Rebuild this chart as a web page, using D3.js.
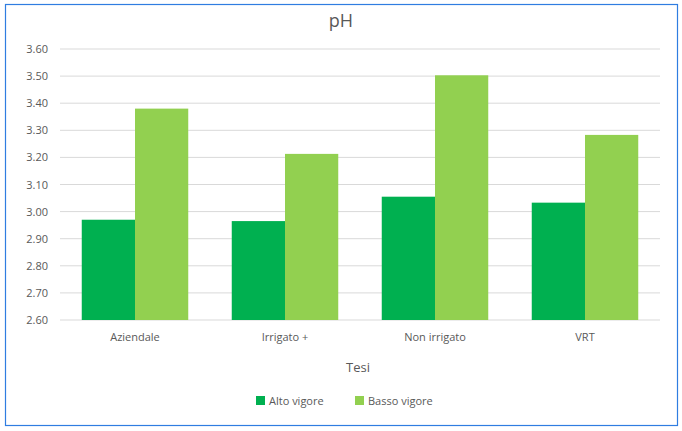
<!DOCTYPE html>
<html><head><meta charset="utf-8">
<script src="https://cdn.jsdelivr.net/npm/d3@7"></script>
<style>body{margin:0;background:#fff}text{font-family:"Open Sans",Calibri,sans-serif}</style>
</head><body>
<svg id="chart" width="682" height="431"></svg>
<script>
const categories = ['Aziendale', 'Irrigato +', 'Non irrigato', 'VRT'];
const alto = [2.97, 2.965, 3.055, 3.033];
const basso = [3.38, 3.213, 3.503, 3.283];
const ticks = [2.6, 2.7, 2.8, 2.9, 3.0, 3.1, 3.2, 3.3, 3.4, 3.5, 3.6];
const series = [{name: 'Alto vigore', values: alto, color: '#00b050'},
                {name: 'Basso vigore', values: basso, color: '#92d050'}];

const svg = d3.select('#chart');
svg.append('rect').attr('x', 5.5).attr('y', 4.5).attr('width', 672).attr('height', 421)
  .attr('fill', '#fff').attr('stroke', '#2f7de1').attr('stroke-width', 1.2);

const x = d3.scaleBand().domain(categories).range([60, 660]).paddingInner(0.29).paddingOuter(0.145);
const xs = d3.scaleBand().domain([0, 1]).range([0, x.bandwidth()]);
const y = d3.scaleLinear().domain([2.6, 3.6]).range([320, 49]);

svg.append('g').selectAll('line').data(ticks).enter().append('line')
  .attr('x1', 60).attr('x2', 660).attr('y1', d => y(d)).attr('y2', d => y(d))
  .attr('stroke', '#d9d9d9');
svg.append('g').selectAll('text').data(ticks).enter().append('text')
  .attr('x', 48).attr('y', d => y(d) + 4).attr('text-anchor', 'end')
  .attr('font-size', 11).attr('fill', '#595959').text(d => d.toFixed(2));

series.forEach((s, i) => {
  svg.append('g').selectAll('rect').data(s.values).enter().append('rect')
    .attr('x', (d, j) => x(categories[j]) + xs(i)).attr('width', xs.bandwidth())
    .attr('y', d => y(d)).attr('height', d => y(2.6) - y(d)).attr('fill', s.color);
});

svg.append('g').selectAll('text').data(categories).enter().append('text')
  .attr('x', d => x(d) + x.bandwidth() / 2).attr('y', 341).attr('text-anchor', 'middle')
  .attr('font-size', 11).attr('fill', '#595959').text(d => d);

svg.append('text').attr('x', 341).attr('y', 27).attr('text-anchor', 'middle')
  .attr('font-size', 18).attr('fill', '#595959').text('pH');
svg.append('text').attr('x', 358).attr('y', 372).attr('text-anchor', 'middle')
  .attr('font-size', 13).attr('fill', '#595959').text('Tesi');

const lx = [256, 355];
series.forEach((s, i) => {
  svg.append('rect').attr('x', lx[i]).attr('y', 396).attr('width', 9).attr('height', 9).attr('fill', s.color);
  svg.append('text').attr('x', lx[i] + 13).attr('y', 405).attr('font-size', 11)
    .attr('fill', '#595959').text(s.name);
});
</script>
</body></html>
